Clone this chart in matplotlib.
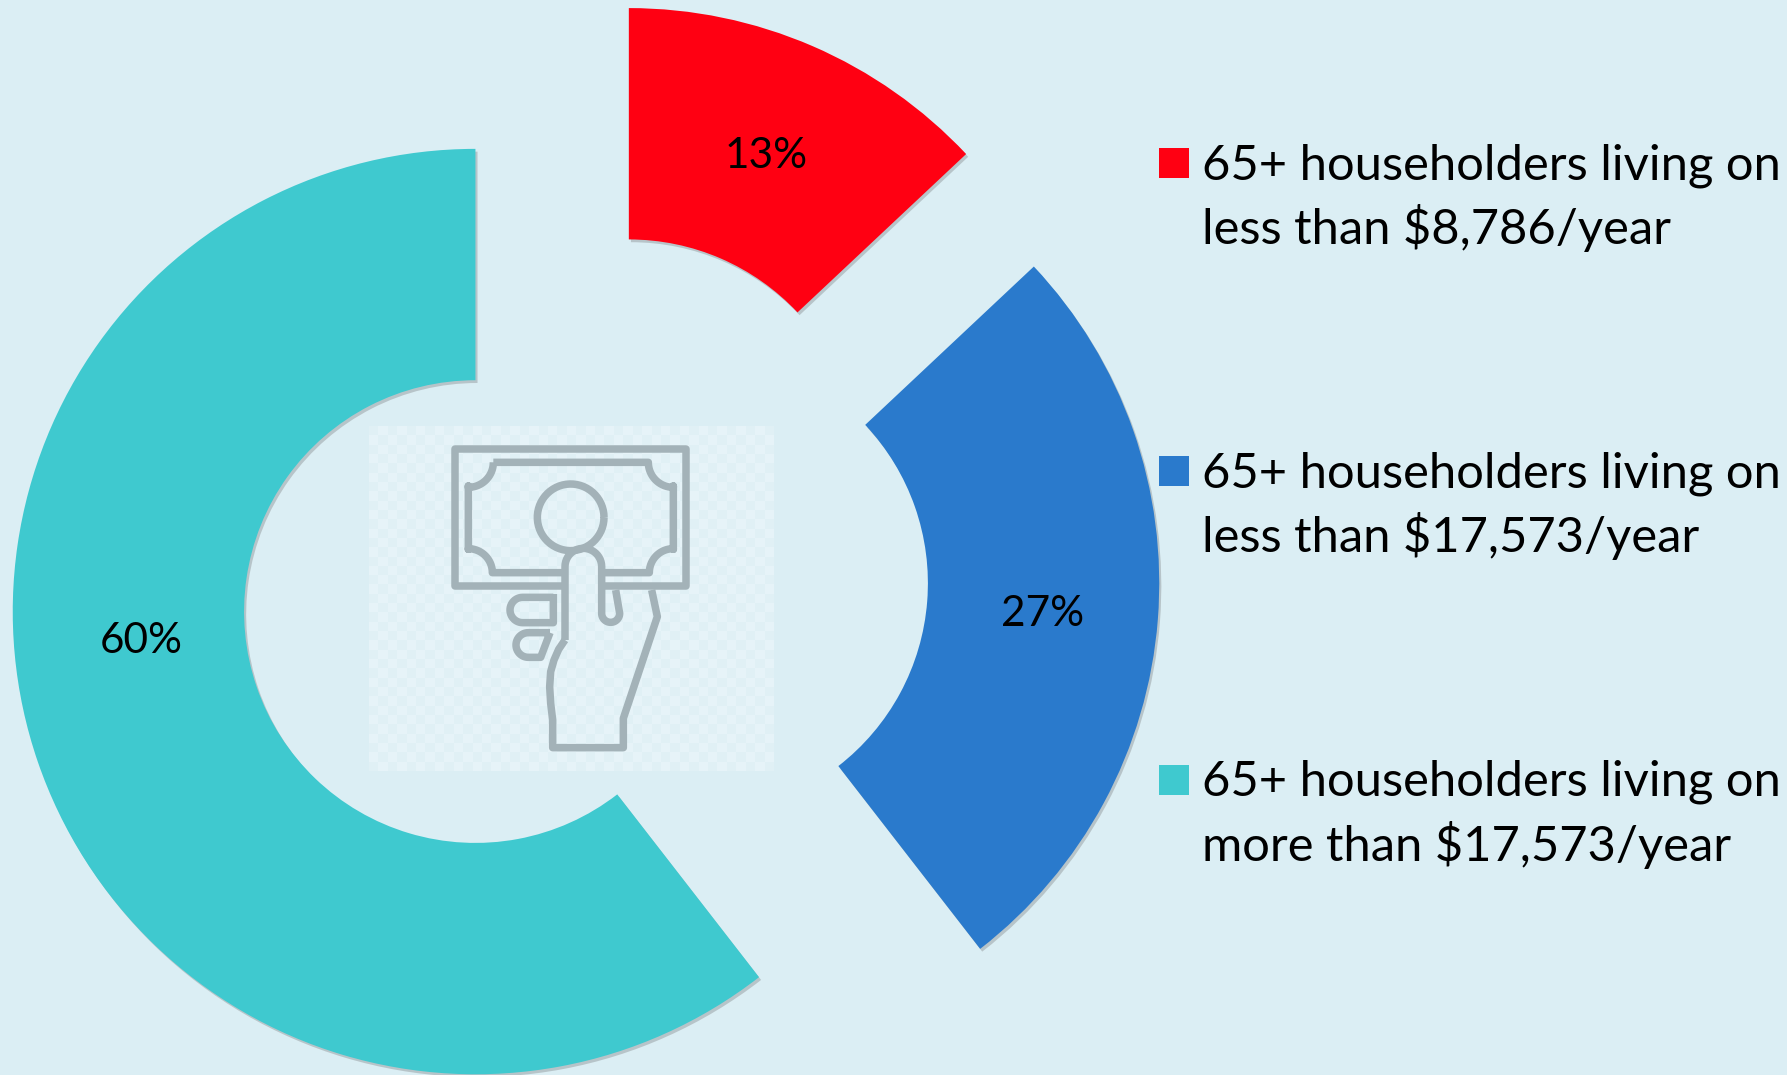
import numpy as np
import matplotlib
matplotlib.use("Agg")
import matplotlib.pyplot as plt
import matplotlib.patheffects as pe

# data
shares = [13, 26.5, 60.5]
pct_labels = ["13%", "27%", "60%"]
legend_lines = [
    ["65+ householders living on", "less than $8,786/year"],
    ["65+ householders living on", "less than $17,573/year"],
    ["65+ householders living on", "more than $17,573/year"],
]
colors = ["#FF0012", "#2A7ACC", "#3FC9CF"]

BG = "#DBEEF4"
ICON = "#A3B2B8"
W, H = 1787, 1075
plt.rcParams["font.family"] = ["Lato", "DejaVu Sans"]

fig = plt.figure(figsize=(W / 100, H / 100), dpi=100, facecolor=BG)

# pie, unit radius, scaled so it lands where the original sits
R = 462.7
cx, cy = 584.0, 574.4
ax = fig.add_axes([0, 0, 1, 1])
shadow = [pe.withSimplePatchShadow(offset=(1.5, -2), shadow_rgbFace="#666666", alpha=0.3)]
ax.pie(shares, explode=[0.244, 0.244, 0.248], radius=1, startangle=90, counterclock=False, colors=colors,
       wedgeprops=dict(width=0.5, path_effects=shadow))
ax.set_xlim(-cx / R, (W - cx) / R)
ax.set_ylim((cy - H) / R, cy / R)
ax.set_aspect("equal")
ax.axis("off")

# overlay in pixels for text + icon
ov = fig.add_axes([0, 0, 1, 1])
ov.set_xlim(0, W)
ov.set_ylim(H, 0)
ov.axis("off")
ov.patch.set_alpha(0)

pct_pos = [(766, 156), (1043, 614), (141, 641)]
for lab, (x, y) in zip(pct_labels, pct_pos):
    ov.text(x, y, lab, fontsize=30.5, ha="center", va="center", color="black")

for i, lines in enumerate(legend_lines):
    dy = i * 308.4
    ov.add_patch(plt.Rectangle((1159, 148 + dy), 30, 30, color=colors[i], lw=0))
    ov.text(1202.5, 179 + dy, lines[0], fontsize=35.2, va="baseline", color="black")
    ov.text(1202.5, 244 + dy, lines[1], fontsize=35.2, va="baseline", color="black")


# icon, coords measured on the 3x zoom crop
def zx(v):
    return 350 + np.asarray(v) / 3


def zy(v):
    return 410 + np.asarray(v) / 3


def arc(xc, yc, r, a0, a1, n=24):
    t = np.radians(np.linspace(a0, a1, n))
    return list(zip(xc + r * np.cos(t), yc + r * np.sin(t)))


def stroke(pts):
    pts = np.array(pts)
    ov.plot(zx(pts[:, 0]), zy(pts[:, 1]), color=ICON, lw=5.4, solid_capstyle="butt", solid_joinstyle="round")


# faint checker behind the icon
checker = np.indices((37, 43)).sum(axis=0) % 2
ov.imshow(checker, extent=(zx(57), zx(1270), zy(1082), zy(47)), cmap=matplotlib.colors.ListedColormap(["#E0F0F5", "#E6F3F8"]),
          interpolation="nearest", aspect="auto", zorder=0)
ov.set_xlim(0, W)
ov.set_ylim(H, 0)

stroke([(640, 528), (316, 528), (316, 117), (1008, 117), (1008, 528), (760, 528)])
note = ([(430, 157), (895, 157)] + arc(970, 157, 75, 180, 90) + [(970, 228), (970, 418)]
        + arc(970, 488, 72, 270, 180) + [(895, 488), (760, 488)])
stroke(note)
stroke([(640, 488), (430, 488)] + arc(355, 488, 72, 0, -90) + [(355, 418), (355, 228)]
       + arc(355, 157, 75, 90, 0) + [(430, 157)])
stroke(arc(662, 322, 100, 0, 360, 60))
stroke([(645, 690), (645, 470)] + arc(700, 470, 55, 180, 360) + [(755, 605)]
       + arc(782, 610, 27, 180, 0) + [(797, 540)])
stroke([(905, 540), (922, 620), (820, 925), (820, 1013), (608, 1013), (608, 930), (602, 880), (599, 830),
        (602, 785), (612, 750), (626, 718), (645, 690)])
stroke([(610, 562), (518, 562)] + arc(518, 600, 38, 270, 90) + [(610, 638), (610, 552)])
stroke([(600, 668), (535, 668)] + arc(535, 705, 37, 270, 90) + [(572, 742), (600, 668)])

fig.savefig("out.png", dpi=100, facecolor=BG)
